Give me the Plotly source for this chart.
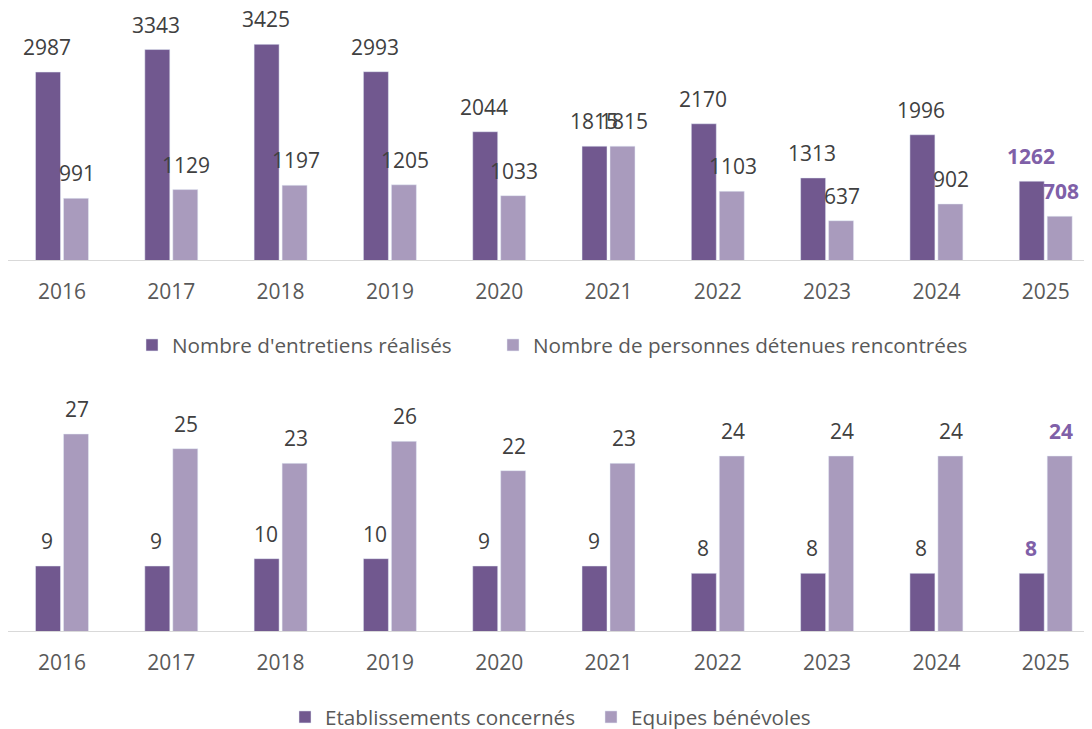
import plotly.graph_objects as go

years = ["2016", "2017", "2018", "2019", "2020", "2021", "2022", "2023", "2024", "2025"]
entretiens = [2987, 3343, 3425, 2993, 2044, 1815, 2170, 1313, 1996, 1262]
personnes = [991, 1129, 1197, 1205, 1033, 1815, 1103, 637, 902, 708]
etablissements = [9, 9, 10, 10, 9, 9, 8, 8, 8, 8]
equipes = [27, 25, 23, 26, 22, 23, 24, 24, 24, 24]

DARK = "#71588F"
LIGHT = "#A99BBD"
HILITE = "#7F60A8"
LABEL = "#404040"
TICK = "#595959"
FONT = "Open Sans"
W, H = 1092, 729
OFF = 8  # page body margin compensation

def fx(px):
    return (px - OFF) / W

def fy(py):
    return (H - (py - OFF)) / H

fig = go.Figure()
fig.add_trace(go.Bar(x=years, y=entretiens, name="Nombre d'entretiens réalisés",
                     marker=dict(color=DARK), xaxis="x", yaxis="y", legend="legend"))
fig.add_trace(go.Bar(x=years, y=personnes, name="Nombre de personnes détenues rencontrées",
                     marker=dict(color=LIGHT), xaxis="x", yaxis="y", legend="legend2"))
fig.add_trace(go.Bar(x=years, y=etablissements, name="Etablissements concernés",
                     marker=dict(color=DARK), xaxis="x2", yaxis="y2", legend="legend3"))
fig.add_trace(go.Bar(x=years, y=equipes, name="Equipes bénévoles",
                     marker=dict(color=LIGHT), xaxis="x2", yaxis="y2", legend="legend4"))
fig.update_traces(showlegend=True)

annotations = []
def add_labels(values, xref, yref, shift):
    for i, v in enumerate(values):
        last = i == len(values) - 1
        annotations.append(dict(
            x=i, y=v, xref=xref, yref=yref,
            text=("<b>%d</b>" % v) if last else str(v), showarrow=False,
            xshift=shift, yshift=25, yanchor="middle", xanchor="center",
            font=dict(family=FONT, size=21, color=HILITE if last else LABEL),
        ))

add_labels(entretiens, "x", "y", -15)
add_labels(personnes, "x", "y", 15)
add_labels(etablissements, "x2", "y2", -15)
add_labels(equipes, "x2", "y2", 15)

step = 109.3
r0 = -(62 - OFF) / step
r1 = r0 + W / step

shapes = []
for xr, yr in (("x", "y"), ("x2", "y2")):
    shapes.append(dict(type="line", xref=xr, yref=yr, x0=-0.5, x1=9.6, y0=0, y1=0,
                       line=dict(color="#D9D9D9", width=2), layer="above"))

xcommon = dict(type="category", range=[r0, r1], autorange=False, showgrid=False, zeroline=False,
               showline=False, ticks="outside", ticklen=12, tickcolor="rgba(0,0,0,0)",
               tickfont=dict(family=FONT, size=21, color=TICK), domain=[0, 1])

def leg(text_x, y_px):
    return dict(orientation="h", x=fx(text_x - 40), xanchor="left", y=fy(y_px), yanchor="middle",
                font=dict(family=FONT, size=20.7, color=TICK), bgcolor="rgba(0,0,0,0)",
                borderwidth=0)

fig.update_layout(
    width=W, height=H, margin=dict(l=0, r=0, t=0, b=0, autoexpand=False),
    paper_bgcolor="white", plot_bgcolor="white", showlegend=True,
    barmode="group", bargap=0.488, bargroupgap=0.107,
    font=dict(family=FONT, color=TICK),
    xaxis=dict(xcommon, anchor="y"),
    xaxis2=dict(xcommon, anchor="y2"),
    yaxis=dict(range=[0, 4000], domain=[fy(261), fy(8)], visible=False, anchor="x"),
    yaxis2=dict(range=[0, 30], domain=[fy(632), fy(412)], visible=False, anchor="x2"),
    legend=leg(172, 345),
    legend2=leg(533, 345),
    legend3=leg(325, 717),
    legend4=leg(631, 717),
    annotations=annotations, shapes=shapes,
)

fig.write_html("out.html")
